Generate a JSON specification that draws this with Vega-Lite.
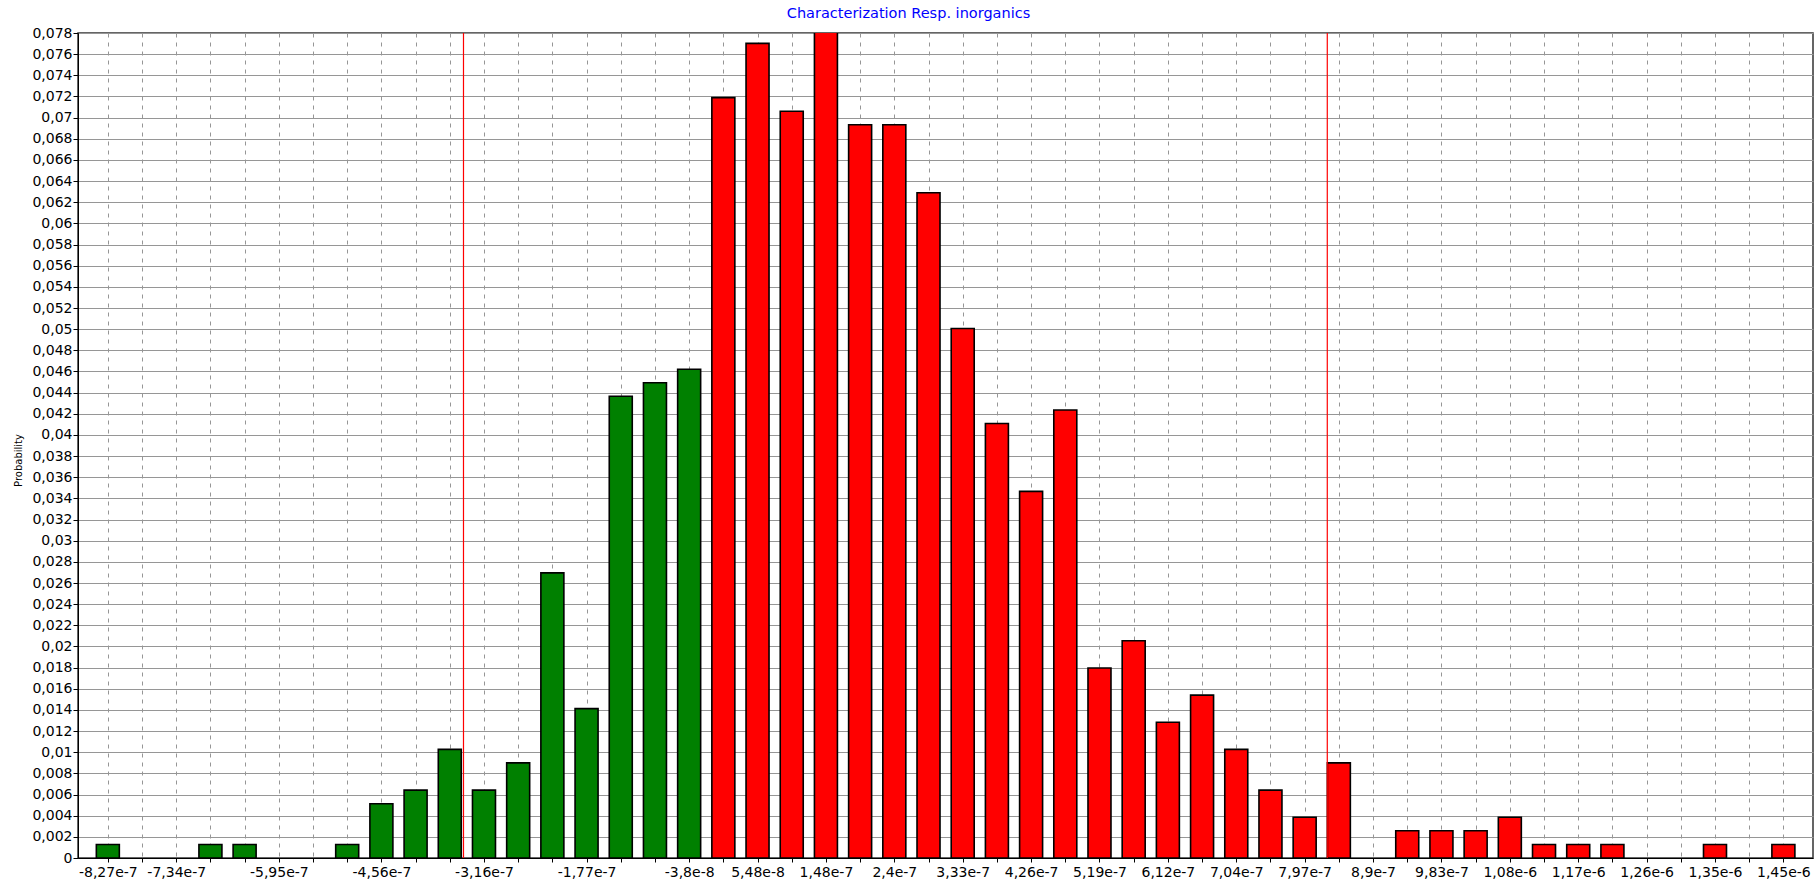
{
  "$schema": "https://vega.github.io/schema/vega-lite/v6.json",
  "autosize": {"type": "none"},
  "padding": {"left": 78, "top": 33, "right": 1, "bottom": 30},
  "width": 1735,
  "height": 825,
  "background": "white",
  "config": {
    "font": "DejaVu Sans",
    "locale": {"number": {"decimal": ",", "thousands": ".", "grouping": [3], "currency": ["", ""], "minus": "-"}},
    "view": {"stroke": "#333333", "strokeWidth": 1.5},
    "axis": {
      "labelFont": "DejaVu Sans",
      "labelFontSize": 14,
      "labelColor": "#000000",
      "domainColor": "#000000",
      "tickColor": "#000000",
      "tickSize": 5,
      "gridColor": "#969696",
      "gridWidth": 1.2,
      "gridOpacity": 1
    }
  },
  "title": {
    "text": "Characterization Resp. inorganics",
    "color": "#0000ff",
    "font": "DejaVu Sans",
    "fontSize": 14.5,
    "fontWeight": "normal",
    "anchor": "middle",
    "baseline": "bottom",
    "offset": -9,
    "dx": -37
  },
  "encoding": {
    "x": {
      "field": "x",
      "type": "quantitative",
      "title": null,
      "scale": {"domain": [-8.605e-7, 1.4802e-6], "nice": false, "zero": false},
      "axis": {
        "values": [-8.268e-7, -7.804e-7, -7.34e-7, -6.876e-7, -6.412e-7, -5.948e-7, -5.484e-7, -5.02e-7, -4.556e-7, -4.092e-7, -3.628e-7, -3.164e-7, -2.7e-7, -2.236e-7, -1.772e-7, -1.308e-7, -8.44e-8, -3.8e-8, 8.4e-9, 5.48e-8, 1.012e-7, 1.476e-7, 1.94e-7, 2.404e-7, 2.868e-7, 3.332e-7, 3.796e-7, 4.26e-7, 4.724e-7, 5.188e-7, 5.652e-7, 6.116e-7, 6.58e-7, 7.044e-7, 7.508e-7, 7.972e-7, 8.436e-7, 8.9e-7, 9.364e-7, 9.828e-7, 1.0292e-6, 1.0756e-6, 1.122e-6, 1.1684e-6, 1.2148e-6, 1.2612e-6, 1.3076e-6, 1.354e-6, 1.4004e-6, 1.4468e-6],
        "labelExpr": "indexof([0,2,5,8,11,14,17,19,21,23,25,27,29,31,33,35,37,39,41,43,45,47,49], round((datum.value + 8.268e-7) / 4.64e-8)) >= 0 ? replace(replace(format(datum.value, '.2~e'), '.', ','), '\u2212', '-') : ''",
        "labelOverlap": false,
        "labelPadding": 3,
        "grid": true,
        "gridDash": [4, 5],
        "gridWidth": 1,
        "tickSize": 4
      }
    }
  },
  "layer": [
    {
      "data": {
        "values": [
          {"x": -8.268e-7, "p": 0.00128},
          {"x": -6.876e-7, "p": 0.00128},
          {"x": -6.412e-7, "p": 0.00128},
          {"x": -5.02e-7, "p": 0.00128},
          {"x": -4.556e-7, "p": 0.00513},
          {"x": -4.092e-7, "p": 0.00642},
          {"x": -3.628e-7, "p": 0.01027},
          {"x": -3.164e-7, "p": 0.00642},
          {"x": -2.7e-7, "p": 0.00899},
          {"x": -2.236e-7, "p": 0.02696},
          {"x": -1.772e-7, "p": 0.01412},
          {"x": -1.308e-7, "p": 0.04365},
          {"x": -8.44e-8, "p": 0.04493},
          {"x": -3.8e-8, "p": 0.04621},
          {"x": 8.4e-9, "p": 0.07189},
          {"x": 5.48e-8, "p": 0.07702},
          {"x": 1.012e-7, "p": 0.0706},
          {"x": 1.476e-7, "p": 0.07831},
          {"x": 1.94e-7, "p": 0.06932},
          {"x": 2.404e-7, "p": 0.06932},
          {"x": 2.868e-7, "p": 0.0629},
          {"x": 3.332e-7, "p": 0.05006},
          {"x": 3.796e-7, "p": 0.04108},
          {"x": 4.26e-7, "p": 0.03466},
          {"x": 4.724e-7, "p": 0.04236},
          {"x": 5.188e-7, "p": 0.01797},
          {"x": 5.652e-7, "p": 0.02054},
          {"x": 6.116e-7, "p": 0.01284},
          {"x": 6.58e-7, "p": 0.0154},
          {"x": 7.044e-7, "p": 0.01027},
          {"x": 7.508e-7, "p": 0.00642},
          {"x": 7.972e-7, "p": 0.00385},
          {"x": 8.436e-7, "p": 0.00899},
          {"x": 9.364e-7, "p": 0.00257},
          {"x": 9.828e-7, "p": 0.00257},
          {"x": 1.0292e-6, "p": 0.00257},
          {"x": 1.0756e-6, "p": 0.00385},
          {"x": 1.122e-6, "p": 0.00128},
          {"x": 1.1684e-6, "p": 0.00128},
          {"x": 1.2148e-6, "p": 0.00128},
          {"x": 1.354e-6, "p": 0.00128},
          {"x": 1.4468e-6, "p": 0.00128}
        ]
      },
      "mark": {"type": "bar", "width": 23, "stroke": "#000000", "strokeWidth": 1.6, "clip": true},
      "encoding": {
        "y": {
          "field": "p",
          "type": "quantitative",
          "title": "Probability",
          "scale": {"domain": [0, 0.078], "nice": false, "zero": true},
          "axis": {
            "values": [0, 0.002, 0.004, 0.006, 0.008, 0.01, 0.012, 0.014, 0.016, 0.018, 0.02, 0.022, 0.024, 0.026, 0.028, 0.03, 0.032, 0.034, 0.036, 0.038, 0.04, 0.042, 0.044, 0.046, 0.048, 0.05, 0.052, 0.054, 0.056, 0.058, 0.06, 0.062, 0.064, 0.066, 0.068, 0.07, 0.072, 0.074, 0.076, 0.078],
            "labelExpr": "replace(format(datum.value, '.3~f'), '.', ',')",
            "labelOverlap": false,
            "labelPadding": 1,
            "grid": true,
            "titleFont": "DejaVu Sans",
            "titleFontSize": 10,
            "titleFontWeight": "normal",
            "titleColor": "#000000",
            "titlePadding": 8,
            "titleY": 427
          }
        },
        "color": {
          "condition": {"test": "datum.x < 0", "value": "#008000"},
          "value": "#ff0000"
        }
      }
    },
    {
      "data": {"values": [{"x": -3.442e-7}, {"x": 8.279e-7}]},
      "mark": {"type": "rule", "color": "#ff0000", "strokeWidth": 1.2},
      "encoding": {}
    }
  ]
}
